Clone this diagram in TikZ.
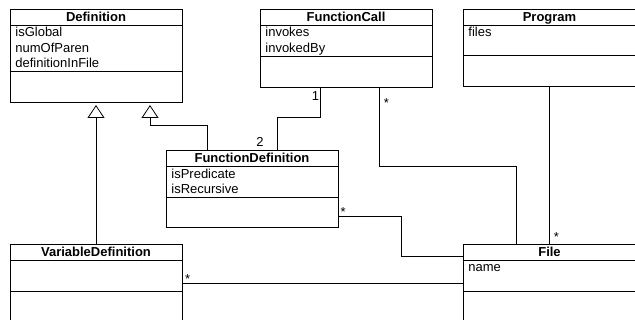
\documentclass[tikz,border=0pt]{standalone}
\usepackage{fontspec}
\setmainfont{Liberation Sans}
\usetikzlibrary{arrows.meta, positioning, calc}

\newcommand\umlfont{\fontsize{13}{15.5}\selectfont}

\tikzset{
    head/.style={draw, anchor=north west, minimum width=172pt, minimum height=16pt,
        inner sep=0pt, outer sep=0pt, text height=9.5pt, text depth=0.5pt, font=\umlfont\bfseries},
    compart/.style={draw, minimum width=172pt, inner sep=0pt, outer sep=0pt},
    attrs/.style={anchor=north west, align=left, inner xsep=5pt, inner ysep=0.5pt, font=\umlfont},
    mult/.style={inner sep=1pt, font=\umlfont},
    inherit/.style={-{Triangle[open, length=13pt, width=17pt]}, shorten >=3pt}
}

\begin{document}
\begin{tikzpicture}[x=1pt, y=-1pt, line width=0.8pt]
    \useasboundingbox (0,0) rectangle (635,320);
    \clip (0,0) rectangle (635,320);

    % classes
    \node[head] (def) at (10,9) {Definition};
    \node[compart, minimum height=46pt, below=0pt of def] (def-a) {};
    \node[compart, minimum height=31pt, below=0pt of def-a] (def-o) {};
    \node[attrs] (def-t) at (def-a.north west) {\strut isGlobal\\numOfParen\\definitionInFile};

    \node[head] (fc) at (260,9) {FunctionCall};
    \node[compart, minimum height=31pt, below=0pt of fc] (fc-a) {};
    \node[compart, minimum height=31pt, below=0pt of fc-a] (fc-o) {};
    \node[attrs] (fc-t) at (fc-a.north west) {\strut invokes\\invokedBy};

    \node[head, minimum width=173pt] (prog) at (463,9) {Program};
    \node[compart, minimum width=173pt, minimum height=30pt, below=0pt of prog] (prog-a) {};
    \node[compart, minimum width=173pt, minimum height=31pt, below=0pt of prog-a] (prog-o) {};
    \node[attrs] (prog-t) at (prog-a.north west) {\strut files};

    \node[head] (fd) at (166,150.5) {FunctionDefinition};
    \node[compart, minimum height=31pt, below=0pt of fd] (fd-a) {};
    \node[compart, minimum height=30pt, below=0pt of fd-a] (fd-o) {};
    \node[attrs] (fd-t) at (fd-a.north west) {\strut isPredicate\\isRecursive};

    \node[head] (vd) at (10,244) {VariableDefinition};
    \node[compart, minimum height=31pt, below=0pt of vd] (vd-a) {};
    \node[compart, minimum height=31pt, below=0pt of vd-a] (vd-o) {};

    \node[head, minimum width=173pt] (file) at (463,244) {File};
    \node[compart, minimum width=173pt, minimum height=31pt, below=0pt of file] (file-a) {};
    \node[compart, minimum width=173pt, minimum height=31pt, below=0pt of file-a] (file-o) {};
    \node[attrs] (file-t) at (file-a.north west) {\strut name};

    % generalisations
    \draw[inherit] (vd.north) -- (def-o.south);
    \draw[inherit] ([xshift=41pt]fd.north west) -- ++(0,25pt) -| ([xshift=-32pt]def-o.south east);

    % associations
    \draw ([xshift=60.5pt]fc-o.south west) -- node[mult, pos=0.3, left] (m-one) {1} ++(0,-30pt)
        -| ([xshift=111.5pt]fd.north west);
    \node[mult, anchor=base east] (m-two) at ([xshift=99pt, yshift=4pt]fd.north west) {2};
    \draw ([xshift=119.5pt]fc-o.south west) -- node[mult, pos=0.2, right=3pt] (m-fc) {*} ++(0,-79pt)
        -| ([xshift=53pt]file.north west);
    \draw (prog-o.south) -- node[mult, pos=0.955, right=3pt] (m-prog) {*} (file.north);
    \draw ([yshift=11.5pt]fd-o.south east) -- node[mult, pos=0.08, above=-1.5pt] (m-fd) {*} ++(63pt,0)
        |- ([yshift=-12pt]file.north west);
    \draw ([yshift=8pt]vd-a.south east) -- node[mult, pos=0.02, above=-1.5pt] (m-vd) {*}
        ([yshift=8pt]file-a.south west);
\end{tikzpicture}
\end{document}
